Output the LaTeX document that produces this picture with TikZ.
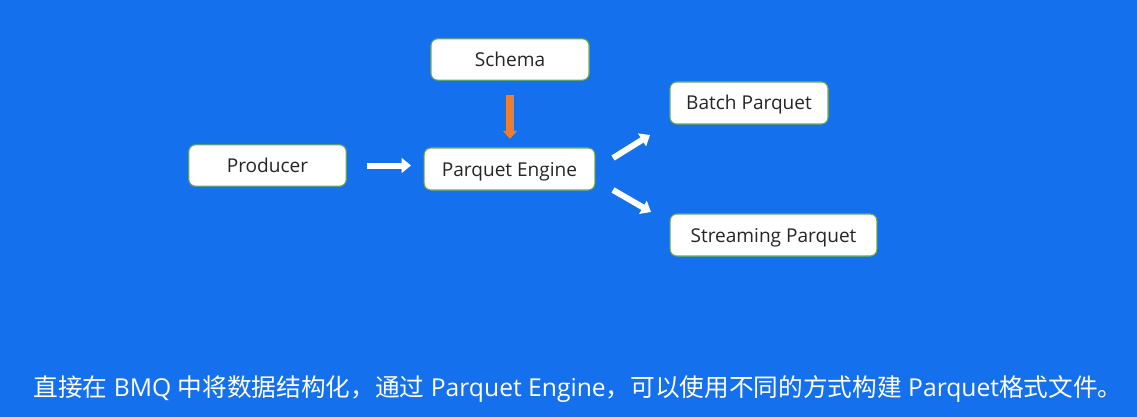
\documentclass[tikz,border=0pt]{standalone}
\usepackage{fontspec}
\setmainfont{Open Sans}
\newfontfamily\cjk{Noto Sans CJK SC}
\usetikzlibrary{arrows.meta}
\definecolor{slideblue}{HTML}{1470EC}
\definecolor{boxgreen}{HTML}{70AD47}
\definecolor{arrorange}{HTML}{ED7D31}
\tikzset{
  box/.style={draw=boxgreen, line width=0.8pt, fill=white, rounded corners=5pt,
    font=\fontsize{14.3}{16}\selectfont, text=black!85, inner sep=0pt,
    text height=10.5pt, text depth=0pt},
  flow/.style={white, line width=4.5pt, -{Triangle[width=11pt,length=7pt]}},
  feed/.style={arrorange, line width=6pt, -{Triangle[width=10.5pt,length=6pt]}}
}
\begin{document}
\begin{tikzpicture}[x=0.75pt, y=-0.75pt]
\fill[slideblue] (0,0) rectangle (1137,417);
% boxes
\node[box, minimum width=118.5pt, minimum height=31pt] (schema) at (510,59.5) {Schema};
\node[box, minimum width=118pt, minimum height=31pt] (prod) at (267.5,165.5) {Producer};
\node[box, minimum width=128pt, minimum height=31.5pt] (eng) at (509.5,169) {Parquet Engine};
\node[box, minimum width=118.5pt, minimum height=31.5pt] (batch) at (749,103) {Batch Parquet};
\node[box, minimum width=155pt, minimum height=31.5pt] (stream) at (773.5,235) {Streaming Parquet};
% arrows
\draw[flow, shorten <=15pt, shorten >=9.5pt] (prod.east) -- (prod.east -| eng.west);
\draw[feed, shorten <=10.5pt, shorten >=6.5pt] (schema.south) -- (schema.south |- eng.north);
\coordinate (up1) at (613,158);
\coordinate (up2) at (650,135);
\coordinate (dn1) at (613,190);
\coordinate (dn2) at (651,212);
\draw[flow] (up1) -- (up2);
\draw[flow] (dn1) -- (dn2);
% caption
\node[white, font=\fontsize{18.5}{22}\selectfont, inner sep=0pt] (note) at (578,389)
  {{\cjk 直接在} BMQ {\cjk 中将数据结构化，通过} Parquet Engine{\cjk ，可以使用不同的方式构建} Parquet{\cjk 格式文件。}};
\end{tikzpicture}
\end{document}
